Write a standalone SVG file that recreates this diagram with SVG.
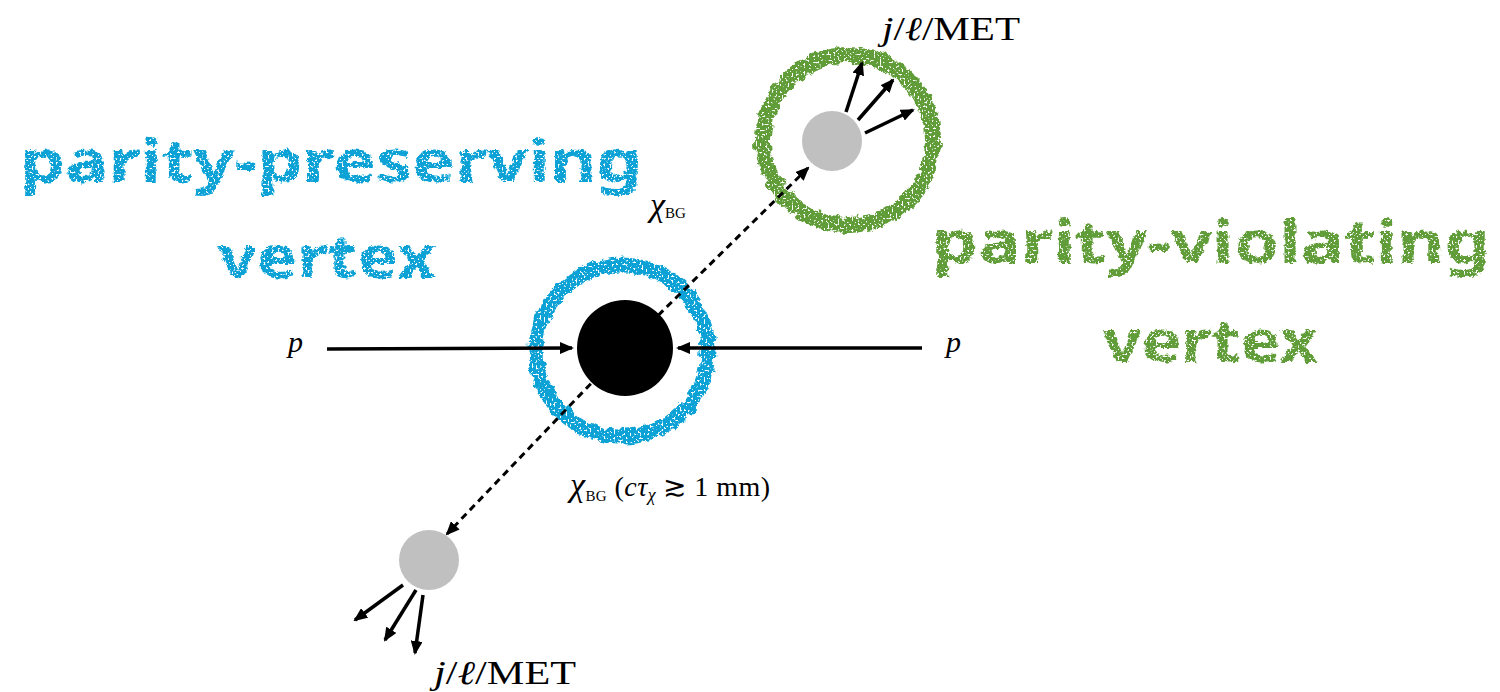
<svg xmlns="http://www.w3.org/2000/svg" width="1500" height="692" viewBox="0 0 1500 692">
<style>
.hand{font-family:"Noto Sans",sans-serif;font-weight:bold;font-size:60px}
.blue{fill:#0aa2d6}
.green{fill:#609d37}
.math{font-family:"Liberation Serif","DejaVu Serif",serif;fill:#000}
.it{font-style:italic}
.arr{stroke:#000;stroke-width:3.5;fill:none;marker-end:url(#ah)}
.dash{stroke:#000;stroke-width:3;stroke-dasharray:7 5;fill:none}
</style>
<defs>
<filter id="chalk" x="-5%" y="-20%" width="110%" height="140%">
<feTurbulence type="fractalNoise" baseFrequency="0.2" numOctaves="2" seed="3" result="n"/>
<feDisplacementMap in="SourceGraphic" in2="n" scale="6" xChannelSelector="R" yChannelSelector="G" result="d"/>
<feTurbulence type="fractalNoise" baseFrequency="0.5" numOctaves="2" seed="7" result="spk"/>
<feColorMatrix in="spk" type="matrix" values="0 0 0 0 0  0 0 0 0 0  0 0 0 0 0  -10 0 0 0 6.8" result="mask"/>
<feComposite in="d" in2="mask" operator="in"/>
</filter>
<filter id="chalkR" x="-15%" y="-15%" width="130%" height="130%">
<feTurbulence type="fractalNoise" baseFrequency="0.12" numOctaves="3" seed="11" result="n"/>
<feDisplacementMap in="SourceGraphic" in2="n" scale="9" xChannelSelector="R" yChannelSelector="G" result="d"/>
<feTurbulence type="fractalNoise" baseFrequency="0.5" numOctaves="2" seed="4" result="spk"/>
<feColorMatrix in="spk" type="matrix" values="0 0 0 0 0  0 0 0 0 0  0 0 0 0 0  -10 0 0 0 6.8" result="mask"/>
<feComposite in="d" in2="mask" operator="in"/>
</filter>
<marker id="ah" viewBox="0 0 14 12" refX="12" refY="6" markerWidth="14" markerHeight="12" markerUnits="userSpaceOnUse" orient="auto-start-reverse">
<path d="M0,0 L14,6 L0,12 z" fill="#000"/>
</marker>
</defs>

<g id="labels-hand">
<text class="hand blue" x="20" y="182" textLength="622" lengthAdjust="spacingAndGlyphs" filter="url(#chalk)">parity-preserving</text>
<text class="hand blue" x="218" y="278" textLength="218" lengthAdjust="spacingAndGlyphs" filter="url(#chalk)">vertex</text>
<text class="hand green" x="932" y="263" textLength="558" lengthAdjust="spacingAndGlyphs" filter="url(#chalk)">parity-violating</text>
<text class="hand green" x="1103" y="362" textLength="215" lengthAdjust="spacingAndGlyphs" filter="url(#chalk)">vertex</text>
</g>

<g id="pp-vertex">
<circle cx="622" cy="351" r="86" fill="none" stroke="#0aa2d6" stroke-width="15" filter="url(#chalkR)"/>
</g>
<g id="pv-vertex">
<circle cx="848" cy="140" r="85" fill="none" stroke="#609d37" stroke-width="16" filter="url(#chalkR)"/>
</g>

<g id="connectors">
<path class="dash" d="M624,349 L808,168" marker-end="url(#ah)"/>
<path class="dash" d="M624,349 L447,534" marker-end="url(#ah)"/>
<path class="arr" d="M327,349 L572,348"/>
<path class="arr" d="M922,348 L678,348"/>
<path class="arr" d="M846,112 L862,63"/>
<path class="arr" d="M858,120 L893,80"/>
<path class="arr" d="M865,133 L913,110"/>
<path class="arr" d="M403,585 L355,620"/>
<path class="arr" d="M416,590 L385,640"/>
<path class="arr" d="M423,595 L415,653"/>
</g>

<g id="collision">
<circle cx="625" cy="348" r="48" fill="#000"/>
</g>
<g id="decay-top">
<circle cx="832" cy="141" r="30" fill="#c0c0c0"/>
</g>
<g id="decay-bottom">
<circle cx="429" cy="560" r="30" fill="#c0c0c0"/>
</g>

<g id="labels-math">
<text class="math it" x="288" y="352" font-size="30">p</text>
<text class="math it" x="946" y="352" font-size="30">p</text>
<text class="math" x="882" y="40" font-size="33" textLength="138" lengthAdjust="spacingAndGlyphs"><tspan class="it">j</tspan>/<tspan class="it">ℓ</tspan>/MET</text>
<text class="math" x="434" y="684" font-size="33" textLength="142" lengthAdjust="spacingAndGlyphs"><tspan class="it">j</tspan>/<tspan class="it">ℓ</tspan>/MET</text>
<text class="math" x="650" y="216" font-size="34"><tspan class="it">χ</tspan><tspan font-size="15" dy="2">BG</tspan></text>
<text class="math" x="570" y="496" font-size="28" textLength="200" lengthAdjust="spacing"><tspan class="it" font-size="34">χ</tspan><tspan font-size="15" dy="5">BG</tspan><tspan dy="-5"> (</tspan><tspan class="it">cτ</tspan><tspan class="it" font-size="18" dy="5">χ</tspan><tspan dy="-5"> ≳ 1 mm)</tspan></text>
</g>
</svg>
